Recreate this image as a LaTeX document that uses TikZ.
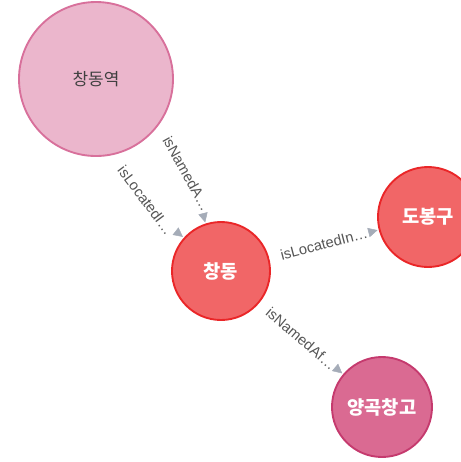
\documentclass[tikz,border=0pt]{standalone}
\usepackage{fontspec}
\setmainfont{Liberation Sans}
\newfontfamily\kr{Noto Sans CJK KR}
\usepackage{tikz}
\usetikzlibrary{arrows.meta,positioning}
\definecolor{kgpink}{RGB}{235,182,204}
\definecolor{kgpinkline}{RGB}{216,112,155}
\definecolor{kgred}{RGB}{241,102,103}
\definecolor{kgredline}{RGB}{234,38,40}
\definecolor{kgrose}{RGB}{218,106,146}
\definecolor{kgroseline}{RGB}{197,58,110}
\definecolor{kgarrow}{RGB}{165,172,184}
\definecolor{kgtext}{RGB}{85,85,85}
\tikzstyle{entity} = [circle, inner sep=0pt, line width=1.6pt, font=\kr\fontsize{16}{18}\selectfont\bfseries]
\tikzstyle{rel} = [draw=white, line width=0.4pt, -{Triangle[length=8pt,width=8pt,color=kgarrow]}, shorten >=1pt]
\tikzstyle{rellabel} = [sloped, font=\fontsize{12.5}{14}\selectfont, text=kgtext, inner sep=1pt]

\begin{document}
\begin{tikzpicture}[x=0.03cm, y=-0.03cm]
\useasboundingbox (0,0) rectangle (461,462);
\clip (0,0) rectangle (461,462);
% Entities
\node[entity, minimum size=4.62cm, draw=kgpinkline, fill=kgpink, text=black!75, font=\kr\fontsize{14.5}{17}\selectfont] (station) at (96,79) {창동역};
\node[entity, minimum size=2.94cm, draw=kgredline, fill=kgred, text=white] (dong) at (221,271) {창동};
\node[entity, minimum size=3cm, draw=kgredline, fill=kgred, text=white] (gu) at (428,217) {도봉구};
\node[entity, minimum size=3cm, draw=kgroseline, fill=kgrose, text=white] (warehouse) at (382,407) {양곡창고};

% Relations
\draw[rel] (station) to[bend left=15] node[rellabel] {isNamedA…} (dong);
\draw[rel] (station) to[bend right=15] node[rellabel] {isLocatedI…} (dong);
\draw[rel] (dong) -- node[rellabel] {isLocatedIn…} (gu);
\draw[rel] (dong) -- node[rellabel] {isNamedAf…} (warehouse);
\end{tikzpicture}
\end{document}
